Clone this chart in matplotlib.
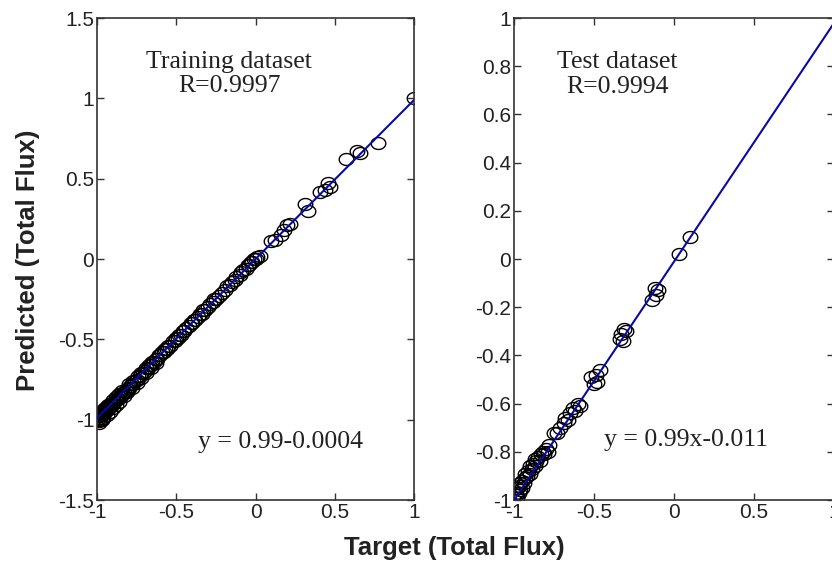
import matplotlib
matplotlib.use("Agg")
import matplotlib.pyplot as plt
import numpy as np

# training dataset (target vs predicted)
train_x = [-1.00, -1.00, -0.99, -0.99, -0.99, -0.98, -0.98, -0.98, -0.97, -0.97, -0.96, -0.96, -0.95,
           -0.95, -0.94, -0.94, -0.93, -0.93, -0.92, -0.92, -0.91, -0.90, -0.90, -0.89, -0.88, -0.88,
           -0.87, -0.86, -0.86, -0.85, -0.84, -0.84, -0.83, -0.82, -0.81, -0.80, -0.80, -0.79, -0.78,
           -0.77, -0.76, -0.75, -0.74, -0.73, -0.72, -0.71, -0.70, -0.69, -0.68, -0.67, -0.66, -0.65,
           -0.64, -0.63, -0.62, -0.61, -0.60, -0.59, -0.58, -0.57, -0.56, -0.55, -0.54, -0.52, -0.51,
           -0.50, -0.49, -0.48, -0.47, -0.46, -0.45, -0.44, -0.42, -0.41, -0.40, -0.39, -0.38, -0.36,
           -0.35, -0.34, -0.33, -0.32, -0.30, -0.29, -0.27, -0.26, -0.25, -0.23, -0.21, -0.19, -0.18,
           -0.16, -0.15, -0.13, -0.12, -0.10, -0.09, -0.08, -0.06, -0.05, -0.04, -0.03, -0.02, -0.01,
           0.00, 0.01, 0.03, 0.10, 0.12, 0.16, 0.18, 0.20, 0.22, 0.31, 0.33, 0.41, 0.44, 0.46, 0.47,
           0.57, 0.64, 0.66, 0.77, 1.00,
           -0.99, -0.97, -0.96, -0.94, -0.92, -0.90, -0.88, -0.86, -0.83, -0.81, -0.78, -0.75, -0.72,
           -0.69, -0.66, -0.63]
train_y = [-1.00, -0.98, -0.99, -1.01, -0.97, -0.98, -0.96, -1.00, -0.97, -0.95, -0.96, -0.94, -0.95,
           -0.93, -0.94, -0.92, -0.93, -0.91, -0.92, -0.90, -0.91, -0.90, -0.88, -0.89, -0.88, -0.86,
           -0.87, -0.86, -0.84, -0.85, -0.84, -0.82, -0.83, -0.82, -0.81, -0.80, -0.78, -0.79, -0.78,
           -0.76, -0.76, -0.75, -0.73, -0.73, -0.71, -0.71, -0.70, -0.68, -0.68, -0.66, -0.66, -0.64,
           -0.64, -0.62, -0.62, -0.60, -0.60, -0.58, -0.58, -0.56, -0.56, -0.54, -0.54, -0.51, -0.51,
           -0.49, -0.49, -0.47, -0.47, -0.45, -0.45, -0.43, -0.42, -0.40, -0.40, -0.38, -0.38, -0.36,
           -0.34, -0.34, -0.32, -0.32, -0.30, -0.28, -0.27, -0.25, -0.25, -0.23, -0.21, -0.19, -0.17,
           -0.16, -0.14, -0.13, -0.11, -0.10, -0.08, -0.07, -0.06, -0.04, -0.04, -0.02, -0.02, 0.00,
           0.00, 0.01, 0.02, 0.11, 0.12, 0.15, 0.18, 0.21, 0.22, 0.34, 0.30, 0.42, 0.43, 0.47, 0.45,
           0.62, 0.67, 0.66, 0.72, 1.00,
           -1.02, -1.00, -0.99, -0.97, -0.95, -0.93, -0.91, -0.89, -0.85, -0.83, -0.80, -0.77, -0.74,
           -0.71, -0.68, -0.65]

# test dataset
test_x = [-1.00, -0.99, -0.99, -0.98, -0.98, -0.97, -0.97, -0.96, -0.96, -0.95, -0.95, -0.94, -0.93,
          -0.93, -0.92, -0.91, -0.90, -0.90, -0.89, -0.88, -0.87, -0.87, -0.86, -0.85, -0.84, -0.83,
          -0.82, -0.81, -0.80, -0.79, -0.78, -0.75, -0.73, -0.71, -0.69, -0.68, -0.66, -0.65, -0.63,
          -0.62, -0.60, -0.59, -0.52, -0.50, -0.49, -0.48, -0.46, -0.34, -0.33, -0.32, -0.31, -0.30,
          -0.14, -0.12, -0.11, -0.10, 0.03, 0.10]
test_y = [-1.00, -0.98, -0.97, -0.99, -0.95, -0.97, -0.94, -0.96, -0.93, -0.95, -0.92, -0.93, -0.91,
          -0.89, -0.90, -0.88, -0.89, -0.86, -0.87, -0.85, -0.86, -0.83, -0.84, -0.82, -0.84, -0.81,
          -0.80, -0.81, -0.79, -0.80, -0.77, -0.72, -0.72, -0.70, -0.68, -0.66, -0.67, -0.64, -0.62,
          -0.63, -0.60, -0.61, -0.49, -0.52, -0.48, -0.51, -0.46, -0.33, -0.31, -0.34, -0.29, -0.30,
          -0.17, -0.12, -0.15, -0.13, 0.02, 0.09]

fit_slope = [0.99, 0.99]
fit_icpt = [-0.0004, -0.011]
titles = ["Training dataset\nR=0.9997", "Test dataset\nR=0.9994"]
eq_labels = ["y = 0.99-0.0004", "y = 0.99x-0.011"]

x_ticks = [-1, -0.5, 0, 0.5, 1]
y_ticks_train = [-1.5, -1, -0.5, 0, 0.5, 1, 1.5]
y_ticks_test = [-1, -0.8, -0.6, -0.4, -0.2, 0, 0.2, 0.4, 0.6, 0.8, 1]

plt.rcParams["font.family"] = "Liberation Sans"

fig = plt.figure(figsize=(8.32, 5.68), dpi=100)
ax1 = fig.add_axes([0.1166, 0.1197, 0.381, 0.8486])
ax2 = fig.add_axes([0.6178, 0.1197, 0.3846, 0.8486])

line_col = "#0a0aa0"

# slightly wide ellipse, the source image is stretched sideways
t = np.linspace(0, 2 * np.pi, 40)
oval = np.column_stack([np.cos(t), 0.82 * np.sin(t)])


def fmt(v):
    return f"{v:g}"


for i, (ax, xs, ys, yt) in enumerate([(ax1, train_x, train_y, y_ticks_train),
                                      (ax2, test_x, test_y, y_ticks_test)]):
    ax.plot(xs, ys, linestyle="none", marker=oval, mfc="none", mec="black", ms=10.5, mew=1.0, zorder=2)
    lx = np.array([-1, 1])
    ax.plot(lx, fit_slope[i] * lx + fit_icpt[i], color=line_col, lw=1.5, zorder=3)
    ax.set_xlim(-1, 1)
    ax.set_ylim(yt[0], yt[-1])
    ax.set_xticks(x_ticks)
    ax.set_xticklabels([fmt(v) for v in x_ticks])
    ax.set_yticks(yt)
    ax.set_yticklabels([fmt(v) for v in yt])
    ax.tick_params(direction="in", top=True, right=True, length=5, width=1,
                   labelsize=15, colors="#333333", labelcolor="#222222", pad=2)
    for sp in ax.spines.values():
        sp.set_linewidth(1.2)
        sp.set_color("#333333")

ax1.text(-0.165, 1.295, titles[0], family="Liberation Serif", fontsize=18.5, ha="center", va="top",
         linespacing=1.15, color="#222222")
ax1.text(0.155, -1.14, eq_labels[0], family="Liberation Serif", fontsize=18.5, ha="center",
         va="center", color="#222222")
ax2.text(-0.355, 0.863, titles[1], family="Liberation Serif", fontsize=18.5, ha="center", va="top",
         linespacing=1.15, color="#222222")
ax2.text(0.075, -0.75, eq_labels[1], family="Liberation Serif", fontsize=18.5, ha="center",
         va="center", color="#222222")

fig.text(0.034, 0.542, "Predicted (Total Flux)", rotation=90, fontsize=18.5, fontweight="bold",
         ha="center", va="center", color="#222222")
fig.text(0.546, 0.035, "Target (Total Flux)", fontsize=18.5, fontweight="bold",
         ha="center", va="center", color="#222222")

fig.savefig("out.png", dpi=100)
